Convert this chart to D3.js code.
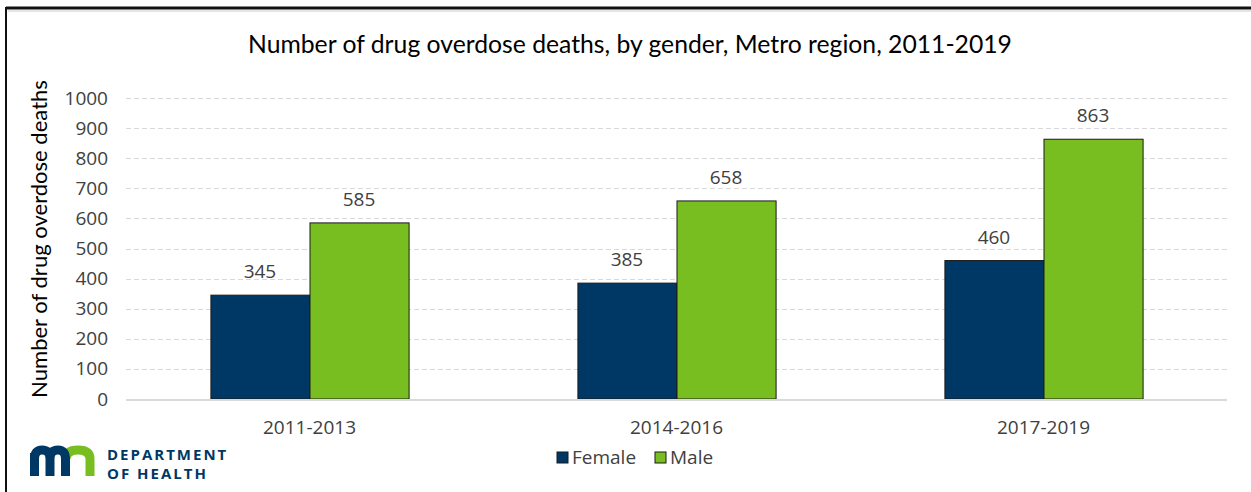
<!DOCTYPE html>
<html><head><meta charset="utf-8">
<script src="https://cdn.jsdelivr.net/npm/d3@7"></script>
<style>body{margin:0;background:#fff}svg{display:block}</style>
</head><body>
<script>
const categories = ["2011-2013", "2014-2016", "2017-2019"];
const seriesNames = ["Female", "Male"];
const female = [345, 385, 460];
const male = [585, 658, 863];
const yTicks = [0, 100, 200, 300, 400, 500, 600, 700, 800, 900, 1000];
const colors = {Female: "#003865", Male: "#78BE21"};

const W = 1251, H = 492;
const svg = d3.select("body").append("svg").attr("width", W).attr("height", H);
const font = "'Open Sans', sans-serif";

// frame
svg.append("line").attr("x1", 6).attr("x2", W).attr("y1", 8).attr("y2", 8).attr("stroke", "#111").attr("stroke-width", 3);
svg.append("line").attr("x1", 6).attr("x2", 6).attr("y1", 7).attr("y2", H).attr("stroke", "#111").attr("stroke-width", 2);
svg.append("line").attr("x1", 8).attr("x2", W).attr("y1", 11).attr("y2", 11).attr("stroke", "#ccc").attr("stroke-width", 1);

const m = {left: 126, right: 1227, top: 98, bottom: 399};
const x0 = d3.scaleBand().domain(categories).range([m.left, m.right]).paddingInner(0.46).paddingOuter(0.23);
const x1 = d3.scaleBand().domain(seriesNames).range([0, x0.bandwidth()]);
const y = d3.scaleLinear().domain([0, 1000]).range([m.bottom, m.top]);

// grid
svg.append("g").selectAll("line").data(yTicks.filter(d => d > 0)).join("line")
  .attr("x1", m.left).attr("x2", m.right)
  .attr("y1", d => Math.round(y(d)) + 0.5).attr("y2", d => Math.round(y(d)) + 0.5)
  .attr("stroke", "#d9d9d9").attr("stroke-dasharray", "5,3");

// y axis labels
const yAxis = d3.axisLeft(y).tickValues(yTicks).tickFormat(d3.format("d")).tickSize(0).tickPadding(0);
const ya = svg.append("g").attr("transform", `translate(108,0)`).call(yAxis);
ya.select(".domain").remove();
ya.selectAll("text").attr("font-family", font).attr("font-size", 19).attr("fill", "#404040");

// bars
const data = categories.map((c, i) => ({cat: c, vals: [{k: "Female", v: female[i]}, {k: "Male", v: male[i]}]}));
const g = svg.append("g").selectAll("g").data(data).join("g")
  .attr("transform", d => `translate(${x0(d.cat)},0)`);
g.selectAll("rect").data(d => d.vals).join("rect")
  .attr("x", d => x1(d.k) + 0.5).attr("width", x1.bandwidth())
  .attr("y", d => y(d.v)).attr("height", d => y(0) - y(d.v))
  .attr("fill", d => colors[d.k]).attr("stroke", "#1a1a1a").attr("stroke-width", 1);
g.selectAll("text").data(d => d.vals).join("text")
  .attr("x", d => x1(d.k) + x1.bandwidth() / 2).attr("y", d => y(d.v) - 17)
  .attr("text-anchor", "middle").attr("font-family", font).attr("font-size", 19).attr("fill", "#404040")
  .text(d => d.v);

// x axis
svg.append("line").attr("x1", m.left).attr("x2", m.right).attr("y1", m.bottom + 1).attr("y2", m.bottom + 1)
  .attr("stroke", "#d9d9d9").attr("stroke-width", 2);
const xAxis = d3.axisBottom(x0).tickSize(0).tickPadding(0);
const xa = svg.append("g").attr("transform", `translate(0,${m.bottom + 35})`).call(xAxis);
xa.select(".domain").remove();
xa.selectAll("text").attr("font-family", font).attr("font-size", 19).attr("fill", "#404040").attr("dy", 0);

// title
const title = svg.append("text").attr("x", 630).attr("y", 53).attr("text-anchor", "middle")
  .attr("font-family", "Lato, sans-serif").attr("font-size", 22).attr("fill", "#000")
  .text("Number of drug overdose deaths, by gender, Metro region, 2011-2019");
const tw = title.node().getComputedTextLength();
title.attr("font-size", 22 * 764 / tw);

// y title
const yt = svg.append("text").attr("transform", "translate(47,239) rotate(-90)").attr("text-anchor", "middle")
  .attr("font-family", "Lato, sans-serif").attr("font-size", 22).attr("fill", "#000")
  .text("Number of drug overdose deaths");
const yw = yt.node().getComputedTextLength();
yt.attr("font-size", 22 * 318 / yw);

// legend
const leg = svg.append("g").selectAll("g").data(seriesNames).join("g")
  .attr("transform", (d, i) => `translate(${i === 0 ? 557 : 655},452)`);
leg.append("rect").attr("width", 11).attr("height", 11).attr("fill", d => colors[d]).attr("stroke", "#1a1a1a");
leg.append("text").attr("x", 15).attr("y", 12).attr("font-family", font).attr("font-size", 19).attr("fill", "#404040").text(d => d);

// logo
const logo = svg.append("g");
logo.append("path").attr("d", "M66,459 Q66,450 78,450 Q90,450 90,459 V476").attr("fill", "none").attr("stroke", "#78BE21").attr("stroke-width", 9);
logo.append("path").attr("d", "M34.5,476 V453 M34.5,459 Q34.5,450 42,450 Q50,450 50,459 V476 M50,459 Q50,450 58,450 Q65.5,450 65.5,459 V476")
  .attr("fill", "none").attr("stroke", "#003865").attr("stroke-width", 9);
logo.append("text").attr("x", 107).attr("y", 460).attr("font-family", "'Open Sans', sans-serif").attr("font-weight", 700)
  .attr("font-size", 15).attr("letter-spacing", 2).attr("fill", "#003865").text("DEPARTMENT");
logo.append("text").attr("x", 107).attr("y", 479).attr("font-family", "'Open Sans', sans-serif").attr("font-weight", 700)
  .attr("font-size", 15).attr("letter-spacing", 2).attr("fill", "#003865").text("OF HEALTH");
</script>
</body></html>
